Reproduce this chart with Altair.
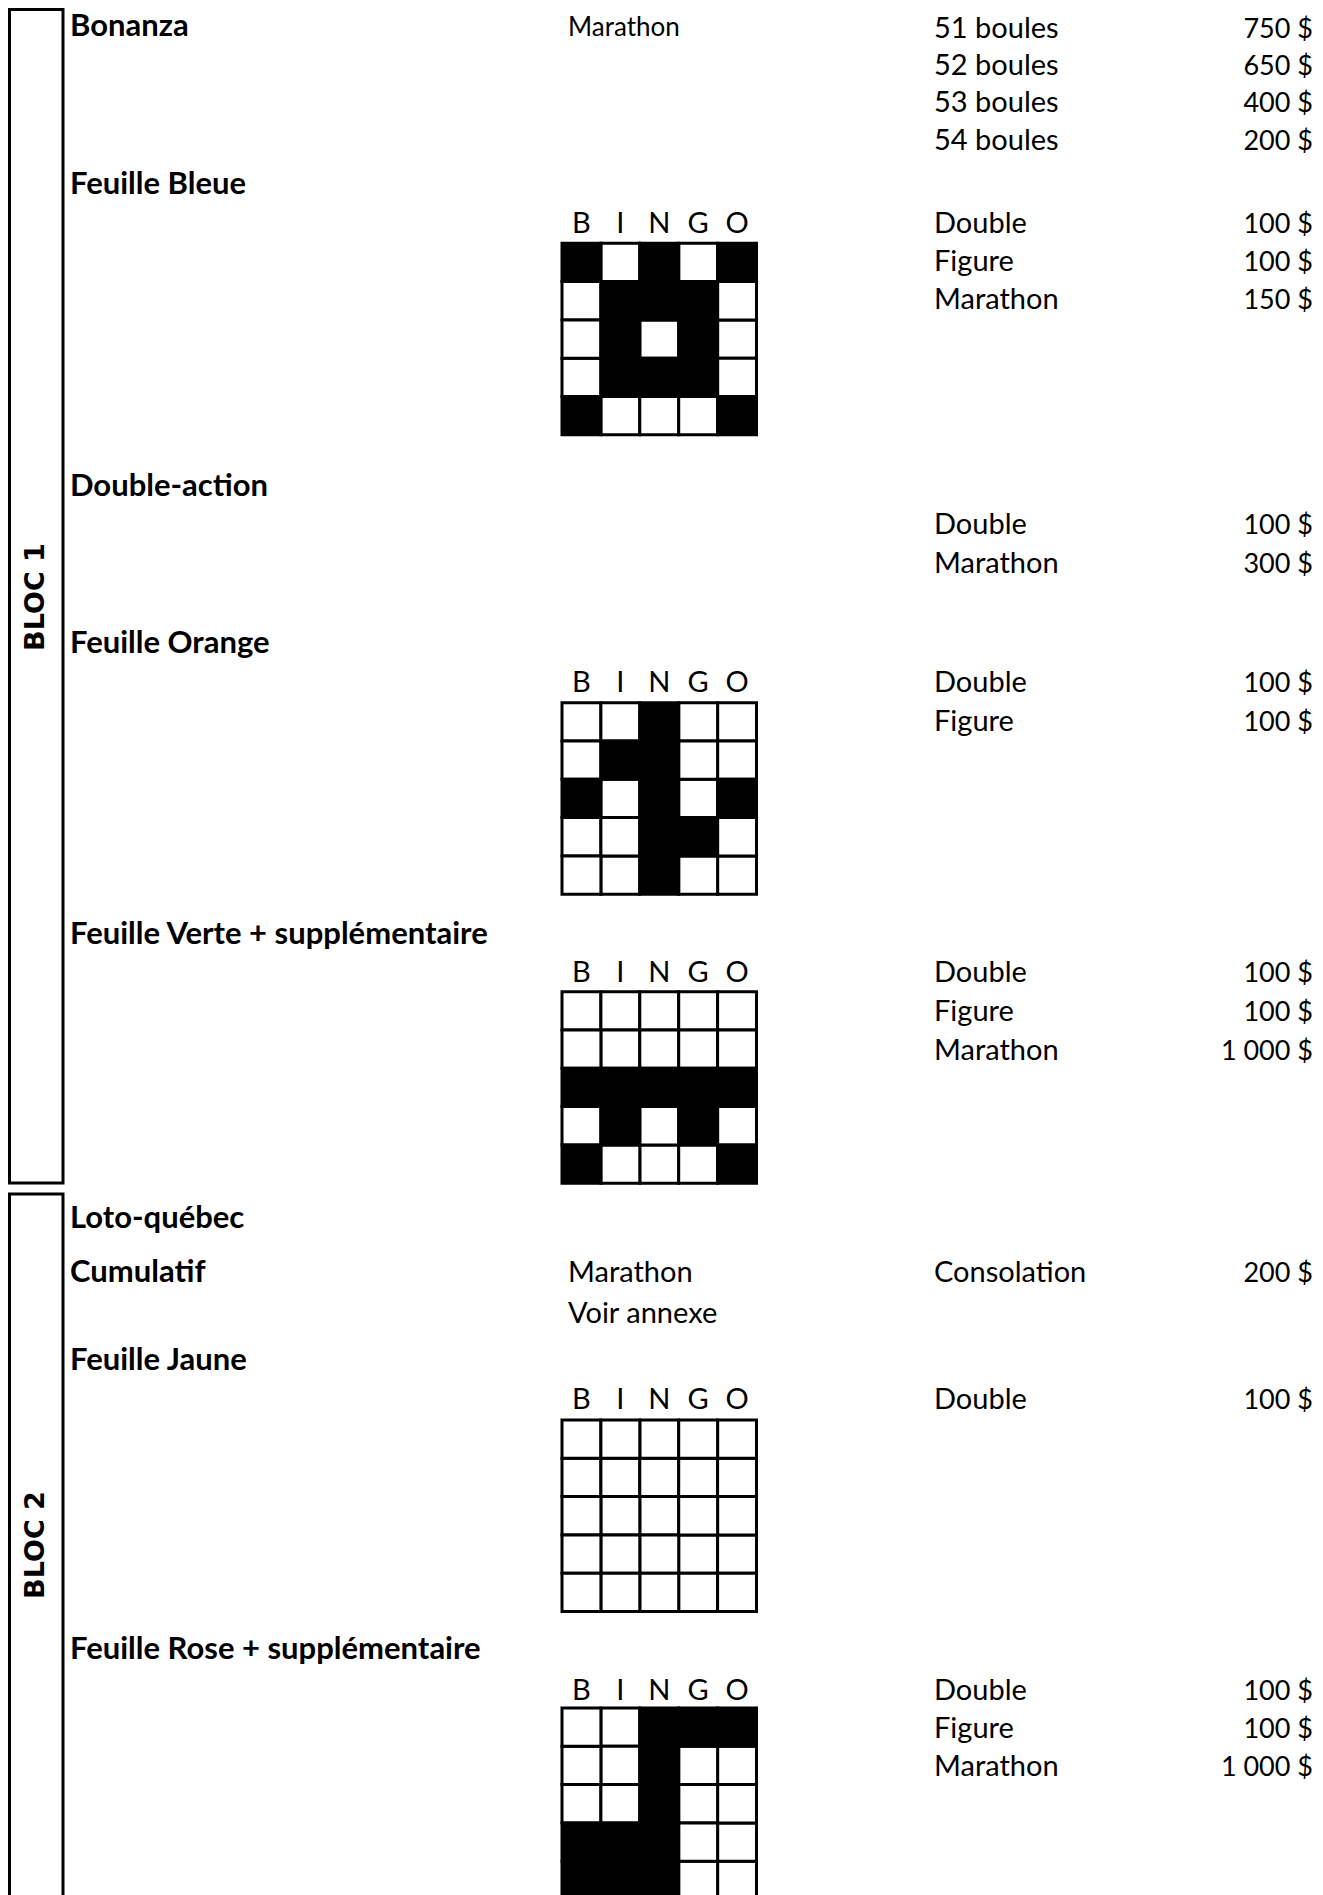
import altair as alt
import pandas as pd

# ---------------- data ----------------
section_titles = ["Bonanza", "Feuille Bleue", "Double-action", "Feuille Orange",
                  "Feuille Verte + supplémentaire", "Loto-québec", "Cumulatif",
                  "Feuille Jaune", "Feuille Rose + supplémentaire"]
section_rows = [36, 194, 496, 653, 944, 1228, 1282, 1370, 1659]

game_types = ["Marathon", "Marathon", "Voir annexe"]
game_rows = [36, 1282, 1323]
game_small = [1, 0, 0]

prize_labels = ["51 boules", "52 boules", "53 boules", "54 boules",
                "Double", "Figure", "Marathon",
                "Double", "Marathon",
                "Double", "Figure",
                "Double", "Figure", "Marathon",
                "Consolation",
                "Double",
                "Double", "Figure", "Marathon"]
prize_amounts = ["750 $", "650 $", "400 $", "200 $",
                 "100 $", "100 $", "150 $",
                 "100 $", "300 $",
                 "100 $", "100 $",
                 "100 $", "100 $", "1 000 $",
                 "200 $",
                 "100 $",
                 "100 $", "100 $", "1 000 $"]
prize_rows = [37.7, 75, 112.3, 150,
              233, 271, 308.5,
              534, 572.5,
              692, 731,
              982, 1021, 1059.5,
              1282,
              1409,
              1700, 1738, 1776]

bingo_letters = ["B", "I", "N", "G", "O"]
header_rows = [233, 692, 982, 1409, 1700]
grid_tops = [243.3, 702.7, 991.7, 1420, 1708]

pattern_bleue = [1, 0, 1, 0, 1,
                 0, 1, 1, 1, 0,
                 0, 1, 0, 1, 0,
                 0, 1, 1, 1, 0,
                 1, 0, 0, 0, 1]
pattern_orange = [0, 0, 1, 0, 0,
                  0, 1, 1, 0, 0,
                  1, 0, 1, 0, 1,
                  0, 0, 1, 1, 0,
                  0, 0, 1, 0, 0]
pattern_verte = [0, 0, 0, 0, 0,
                 0, 0, 0, 0, 0,
                 1, 1, 1, 1, 1,
                 0, 1, 0, 1, 0,
                 1, 0, 0, 0, 1]
pattern_jaune = [0] * 25
pattern_rose = [0, 0, 1, 1, 1,
                0, 0, 1, 0, 0,
                0, 0, 1, 0, 0,
                1, 1, 1, 0, 0,
                1, 1, 1, 0, 0]
patterns = [pattern_bleue, pattern_orange, pattern_verte, pattern_jaune, pattern_rose]

bloc_labels = ["BLOC 1", "BLOC 2"]
bloc_tops = [9.5, 1194]
bloc_bottoms = [1183, 1960]
bloc_label_rows = [597, 1545]

# ---------------- layout ----------------
W, H = 1307, 1887
COL1_X, COL2_X, COL3_X, COL4_X = 70, 568, 934, 1313
GRID_X, CELL_W, CELL_H = 562, 38.9, 38.3
BLOC_X0, BLOC_X1, BLOC_LABEL_X = 9.5, 63, 35.5
FONT = "Lato"
FS = 29

xs = alt.Scale(domain=[8, 8 + W], range=[0, W], nice=False, zero=False)
ys = alt.Scale(domain=[8, 8 + H], range=[0, H], nice=False, zero=False)

def X(f):
    return alt.X(f, type="quantitative", scale=xs, axis=None)

def Y(f):
    return alt.Y(f, type="quantitative", scale=ys, axis=None)

# tables
sec_df = pd.DataFrame({"t": section_titles, "y": section_rows, "x": COL1_X})
game_df = pd.DataFrame({"t": game_types, "y": game_rows, "x": COL2_X, "small": game_small})
prize_df = pd.DataFrame({"t": prize_labels, "a": prize_amounts, "y": prize_rows,
                         "x": COL3_X, "xr": COL4_X})

hdr = []
for g, yy in enumerate(header_rows):
    for c, L in enumerate(bingo_letters):
        hdr.append({"t": L, "y": yy, "x": GRID_X + (c + 0.5) * CELL_W})
hdr_df = pd.DataFrame(hdr)

cells = []
for g, (top, pat) in enumerate(zip(grid_tops, patterns)):
    for i, v in enumerate(pat):
        r, c = divmod(i, 5)
        cells.append({"x": GRID_X + c * CELL_W, "x2": GRID_X + (c + 1) * CELL_W,
                      "y": top + r * CELL_H, "y2": top + (r + 1) * CELL_H,
                      "v": v, "o": 0 if v == 0 else 1})
cell_df = pd.DataFrame(cells)
cell_df = cell_df.sort_values("o")

bloc_df = pd.DataFrame({"t": bloc_labels, "y": bloc_tops, "y2": bloc_bottoms,
                        "ly": bloc_label_rows, "x": BLOC_X0, "x2": BLOC_X1,
                        "lx": BLOC_LABEL_X})

# ---------------- marks ----------------
sections = alt.Chart(sec_df).mark_text(
    font=FONT, fontSize=31, fontWeight="bold", align="left", baseline="alphabetic",
    color="black").encode(x=X("x"), y=Y("y"), text="t:N")

games_big = alt.Chart(game_df).transform_filter("datum.small == 0").mark_text(
    font=FONT, fontSize=FS, align="left", baseline="alphabetic",
    color="black").encode(x=X("x"), y=Y("y"), text="t:N")
games_small = alt.Chart(game_df).transform_filter("datum.small == 1").mark_text(
    font=FONT, fontSize=26, align="left", baseline="alphabetic",
    color="black").encode(x=X("x"), y=Y("y"), text="t:N")

prizes = alt.Chart(prize_df).mark_text(
    font=FONT, fontSize=FS, align="left", baseline="alphabetic",
    color="black").encode(x=X("x"), y=Y("y"), text="t:N")
amounts = alt.Chart(prize_df).mark_text(
    font=FONT, fontSize=27, align="right", baseline="alphabetic",
    color="black").encode(x=X("xr"), y=Y("y"), text="a:N")

headers = alt.Chart(hdr_df).mark_text(
    font=FONT, fontSize=FS, align="center", baseline="alphabetic",
    color="black").encode(x=X("x"), y=Y("y"), text="t:N")

grid = alt.Chart(cell_df).mark_rect(stroke="black", strokeWidth=3).encode(
    x=X("x"), x2="x2", y=Y("y"), y2="y2",
    fill=alt.Fill("v:N", scale=alt.Scale(domain=[0, 1], range=["white", "black"]),
                  legend=None),
    order=alt.Order("o:Q"))

blocs = alt.Chart(bloc_df).mark_rect(fill="white", fillOpacity=0, stroke="black",
                                     strokeWidth=3).encode(
    x=X("x"), x2="x2", y=Y("y"), y2="y2")
bloc_text = alt.Chart(bloc_df).mark_text(
    font="DejaVu Sans", fontSize=27, fontWeight="bold", angle=270,
    align="center", baseline="middle", color="black").encode(
    x=X("lx"), y=Y("ly"), text="t:N")

chart = alt.layer(blocs, grid, sections, games_big, games_small, prizes, amounts,
                  headers, bloc_text).properties(
    width=W, height=H, padding=0, autosize=alt.AutoSizeParams(type="none"),
    background="white"
).configure_view(strokeWidth=0)

chart.save("out.html", embed_options={"renderer": "svg", "actions": False})
